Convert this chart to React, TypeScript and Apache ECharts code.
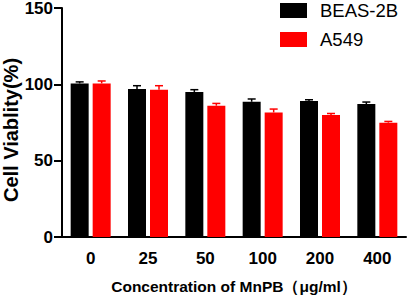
import React, { useEffect, useRef } from "react";
import * as echarts from "echarts";

const categories = ["0", "25", "50", "100", "200", "400"];
const beasValues = [100.6, 96.9, 95.0, 88.6, 89.1, 87.1];
const beasErrors = [1.0, 2.2, 1.5, 1.8, 0.8, 1.3];
const a549Values = [100.6, 96.5, 86.0, 81.6, 79.9, 74.9];
const a549Errors = [1.6, 2.6, 1.5, 2.2, 1.0, 0.8];
const yTicks = [0, 50, 100, 150];
const yTitle = "Cell Viablity(%)";
const xTitle = "Concentration of MnPB（μg/ml）";

const FONT = "Arial, 'Liberation Sans', Helvetica, sans-serif";
const BAR_W = 18;
const BAR_GAP = 4;

function errorSeries(name: string, values: number[], errors: number[], color: string, side: number) {
  return {
    type: "custom",
    name: name + "-err",
    z: 3,
    data: values.map((v, i) => [i, v, v + errors[i]]),
    renderItem: (params: any, api: any) => {
      const idx = api.value(0);
      const base = api.coord([idx, api.value(1)]);
      const top = api.coord([idx, api.value(2)]);
      const x = base[0] + side * (BAR_W / 2 + BAR_GAP / 2);
      const capHalf = 4;
      return {
        type: "group",
        children: [
          { type: "line", shape: { x1: x, y1: base[1], x2: x, y2: top[1] }, style: { stroke: color, lineWidth: 1.5 } },
          { type: "line", shape: { x1: x - capHalf, y1: top[1], x2: x + capHalf, y2: top[1] }, style: { stroke: color, lineWidth: 1.5 } },
        ],
      };
    },
    silent: true,
  };
}

export default function App() {
  const ref = useRef<HTMLDivElement>(null);
  useEffect(() => {
    if (!ref.current) return;
    const chart = echarts.init(ref.current, null, { renderer: "svg" });
    chart.setOption({
      animation: false,
      backgroundColor: "#ffffff",
      textStyle: { fontFamily: FONT },
      legend: {
        orient: "vertical",
        left: 280,
        top: 1,
        padding: 0,
        itemWidth: 27,
        itemHeight: 15,
        itemGap: 10,
        icon: "rect",
        data: ["BEAS-2B", "A549"],
        textStyle: { fontSize: 18.5, color: "#000", fontFamily: FONT, padding: [0, 0, 0, 8], lineHeight: 19 },
      },
      graphic: [
        {
          type: "text",
          x: 11,
          y: 130,
          rotation: Math.PI / 2,
          style: {
            text: yTitle,
            font: `bold 20px ${FONT}`,
            fill: "#000",
            align: "center",
            verticalAlign: "middle",
          },
        },
      ],
      grid: { left: 62, right: 2, top: 8, bottom: 62, containLabel: false, outerBoundsMode: "none" },
      xAxis: {
        type: "category",
        data: categories,
        axisLine: { lineStyle: { color: "#000", width: 2 } },
        axisTick: { alignWithLabel: true, length: 7, lineStyle: { color: "#000", width: 2 } },
        axisLabel: { fontSize: 17, fontWeight: "bold", color: "#000", margin: 13, fontFamily: FONT },
        name: xTitle,
        nameLocation: "middle",
        nameGap: 41,
        nameTextStyle: { fontSize: 15.5, fontWeight: "bold", color: "#000", fontFamily: FONT },
      },
      yAxis: {
        type: "value",
        min: yTicks[0],
        max: yTicks[yTicks.length - 1],
        interval: 50,
        splitLine: { show: false },
        axisLine: { show: true, lineStyle: { color: "#000", width: 2 } },
        axisTick: { show: true, length: 8, lineStyle: { color: "#000", width: 2 } },
        axisLabel: { fontSize: 17, fontWeight: "bold", color: "#000", margin: 9, fontFamily: FONT },
      },
      series: [
        {
          type: "bar",
          name: "BEAS-2B",
          data: beasValues,
          barWidth: BAR_W,
          barGap: (BAR_GAP / BAR_W) * 100 + "%",
          itemStyle: { color: "#000000" },
        },
        {
          type: "bar",
          name: "A549",
          data: a549Values,
          barWidth: BAR_W,
          itemStyle: { color: "#ff0000" },
        },
        errorSeries("BEAS-2B", beasValues, beasErrors, "#000000", -1),
        errorSeries("A549", a549Values, a549Errors, "#ff0000", 1),
      ],
    });
    return () => chart.dispose();
  }, []);
  return <div ref={ref} style={{ width: 408, height: 299, position: "absolute", left: 0, top: 0 }} />;
}
